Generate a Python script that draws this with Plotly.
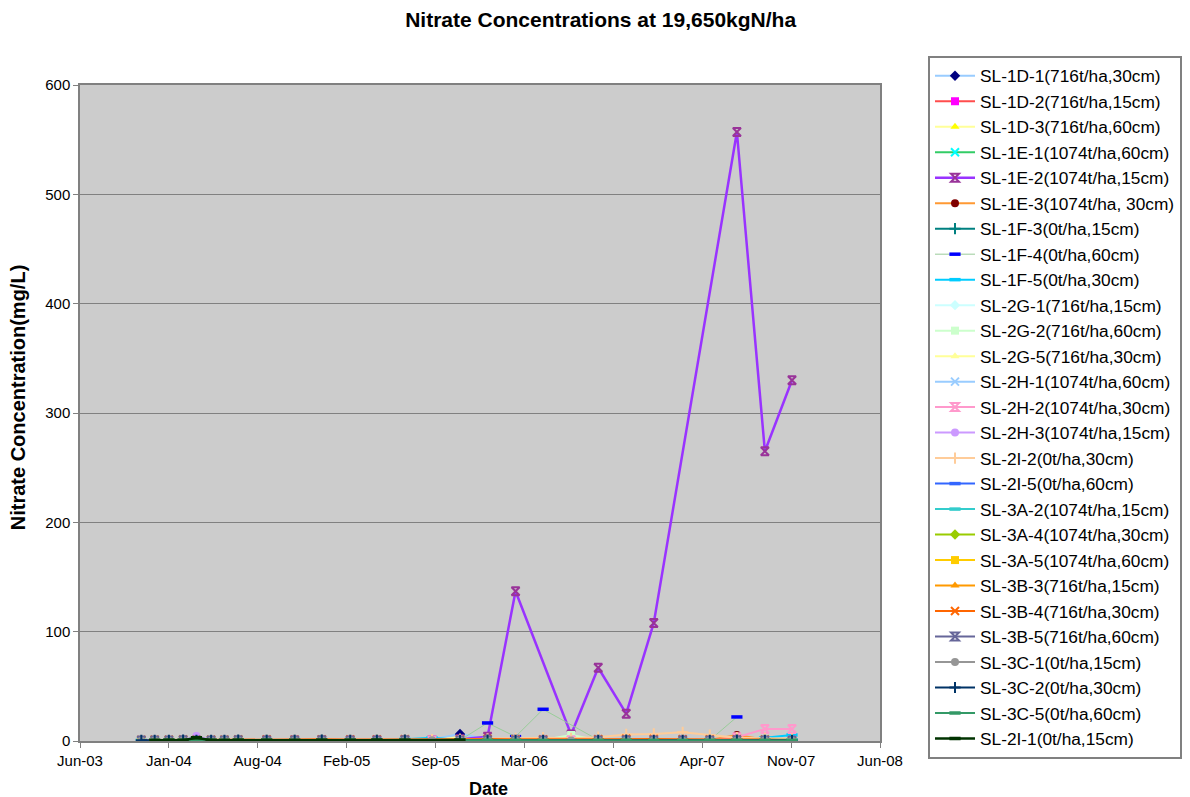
import pandas as pd
import plotly.graph_objects as go

N = None

# Sampling dates
dates = ["2003-11-13", "2003-12-13", "2004-01-14", "2004-02-15", "2004-03-16", "2004-04-18",
         "2004-05-18", "2004-06-18", "2004-08-21", "2004-10-23", "2004-12-23", "2005-02-25",
         "2005-04-26", "2005-06-28", "2005-08-28", "2005-10-30", "2005-12-31", "2006-03-04",
         "2006-05-05", "2006-07-07", "2006-09-06", "2006-11-08", "2007-01-09", "2007-03-15",
         "2007-05-15", "2007-07-15", "2007-09-16", "2007-11-16"]

series_names = [
    "SL-1D-1(716t/ha,30cm)", "SL-1D-2(716t/ha,15cm)", "SL-1D-3(716t/ha,60cm)",
    "SL-1E-1(1074t/ha,60cm)", "SL-1E-2(1074t/ha,15cm)", "SL-1E-3(1074t/ha, 30cm)",
    "SL-1F-3(0t/ha,15cm)", "SL-1F-4(0t/ha,60cm)", "SL-1F-5(0t/ha,30cm)",
    "SL-2G-1(716t/ha,15cm)", "SL-2G-2(716t/ha,60cm)", "SL-2G-5(716t/ha,30cm)",
    "SL-2H-1(1074t/ha,60cm)", "SL-2H-2(1074t/ha,30cm)", "SL-2H-3(1074t/ha,15cm)",
    "SL-2I-2(0t/ha,30cm)", "SL-2I-5(0t/ha,60cm)", "SL-3A-2(1074t/ha,15cm)",
    "SL-3A-4(1074t/ha,30cm)", "SL-3A-5(1074t/ha,60cm)", "SL-3B-3(716t/ha,15cm)",
    "SL-3B-4(716t/ha,30cm)", "SL-3B-5(716t/ha,60cm)", "SL-3C-1(0t/ha,15cm)",
    "SL-3C-2(0t/ha,30cm)", "SL-3C-5(0t/ha,60cm)", "SL-2I-1(0t/ha,15cm)",
]

# Nitrate concentration (mg/L), one list per well
sl_1d_1 = [N, N, N, N, N, N, N, N, 0.5, 0.4, 0.6, 0.5, 0.8, 1.0, 1.2, 6.5, 1.5, 1.0, 0.8, 0.6, 0.5, 0.7, 0.9, 0.6, 0.5, 0.8, 1.0, 1.2]
sl_1d_2 = [N, N, N, N, N, N, N, N, 0.3, 0.2, 0.4, 0.3, 0.5, 0.6, 0.4, 0.8, 0.5, 0.4, 0.3, 0.5, 0.4, 0.6, 0.5, 0.3, 0.4, 0.6, 0.5, 0.4]
sl_1d_3 = [N, N, N, N, N, N, N, N, 0.4, 0.3, 0.5, 0.4, 0.6, 0.8, 0.9, 3.5, 1.0, 1.5, 0.8, 0.6, 0.5, 0.7, 0.8, 0.6, 0.5, 0.7, 0.6, 0.8]
sl_1e_1 = [N, N, N, N, N, N, N, N, 0.3, 0.3, 0.4, 0.5, 0.4, 0.6, 0.7, 0.9, 0.8, 0.6, 0.5, 0.4, 0.6, 0.5, 0.7, 0.5, 0.4, 0.6, 0.8, 0.7]
sl_1e_2 = [N, N, N, N, N, N, N, N, 0.5, 0.4, 0.6, 0.5, 0.7, 0.8, 0.9, 1.5, 4.0, 137, N, 6.0, 67, 25, 108, N, N, 557, 265, 330]
sl_1e_3 = [N, N, N, N, N, N, N, N, 0.4, 0.5, 0.3, 0.6, 0.5, 0.7, 0.6, 0.9, 1.0, 0.8, 0.7, 0.6, 0.8, 0.9, 1.0, 0.8, 0.9, 5.5, 1.2, 1.0]
sl_1f_3 = [N, N, N, N, N, N, N, N, 0.6, 0.5, 0.7, 0.6, 0.8, 0.9, 1.1, 1.0, 0.9, 0.8, 0.7, 0.9, 1.0, 0.8, 0.9, 0.7, 0.8, 1.0, 0.9, 1.1]
sl_1f_4 = [N, N, N, N, N, N, N, N, 0.3, 0.4, 0.3, 0.5, 0.4, 0.6, 0.5, 0.8, 16.5, 4.0, 29.0, N, 1.0, 0.8, 0.6, 0.5, 0.7, 22.0, N, N]
sl_1f_5 = [N, N, N, N, N, N, N, N, 0.5, 0.6, 0.5, 0.7, 0.8, 1.5, 3.0, 1.0, 0.8, 0.9, 0.7, 0.8, 0.9, 1.0, 0.8, 0.9, 1.2, 2.0, 3.0, 5.5]
sl_2g_1 = [N, N, N, N, N, N, N, N, 0.4, 0.5, 0.4, 0.6, 0.5, 0.7, 0.8, 1.0, 0.9, 0.8, 0.7, 0.6, 0.8, 0.7, 0.9, 0.8, 0.7, 0.9, 1.0, 0.8]
sl_2g_2 = [N, N, N, N, N, N, N, N, 0.5, 0.4, 0.5, 0.6, 0.7, 0.6, 0.9, 1.2, 1.5, 1.0, 0.9, 5.5, 1.0, 0.8, 0.9, 0.7, 0.8, 1.0, 0.9, 0.8]
sl_2g_5 = [N, N, N, N, N, N, N, N, 0.3, 0.4, 0.5, 0.4, 0.6, 0.5, 0.7, 0.9, 1.0, 0.8, 1.2, 0.9, 0.8, 1.0, 0.9, 0.8, 0.7, 0.9, 0.8, 1.0]
sl_2h_1 = [N, N, N, N, N, N, N, N, 0.4, 0.3, 0.5, 0.4, 0.5, 0.6, 0.5, 0.7, 0.8, 0.6, 0.7, 0.8, 0.6, 0.7, 0.9, 0.8, 0.6, 0.8, 0.9, 1.0]
sl_2h_2 = [N, N, N, N, N, N, N, N, 0.5, 0.4, 0.6, 0.5, 0.7, 0.6, 0.8, 0.9, 0.8, 1.0, 0.9, 0.8, 1.0, 1.2, 1.0, 0.9, 1.0, 3.5, 11.0, 11.0]
sl_2h_3 = [0.6, 0.5, 0.7, 0.6, 4.5, 0.7, 0.6, 0.8, 0.5, 0.6, 0.5, 0.7, 0.6, 0.8, 0.7, 0.9, 1.0, 0.8, 0.9, 0.7, 0.8, 0.9, 1.0, 0.8, 0.9, 1.0, 0.9, 0.8]
sl_2i_2 = [N, N, N, N, N, N, N, N, 0.6, 0.5, 0.7, 0.8, 0.9, 1.0, 1.2, 1.5, 2.0, 2.5, 3.0, 2.5, 3.5, 6.0, 6.5, 8.0, 5.5, 3.0, 2.5, 2.0]
sl_2i_5 = [N, N, N, N, N, N, N, N, 0.3, 0.4, 0.3, 0.5, 0.4, 0.5, 0.6, 0.5, 0.7, 0.6, 0.5, 0.6, 0.7, 0.6, 0.5, 0.5, 0.6, 0.7, 0.6, 0.8]
sl_3a_2 = [0.6, 0.5, 0.7, 0.6, 0.8, 0.5, 0.6, 0.7, 0.5, 0.6, 0.8, 0.7, 0.6, 0.9, N, 0.8, 0.7, 0.6, 0.8, N, 0.6, 0.9, 0.8, 0.7, 0.6, 1.0, 0.9, 1.1]
sl_3a_4 = [0.4, 0.5, 0.4, 0.6, 0.5, 0.4, 0.5, 0.6, 0.4, 0.5, 0.6, 0.5, 0.4, 0.6, N, 0.5, 0.6, 0.5, 0.4, N, 0.5, 0.6, 0.5, 0.4, 0.5, 0.3, 0.6, 0.5]
sl_3a_5 = [0.8, 0.9, 0.8, 1.0, 0.9, 0.8, 0.9, 1.0, 0.8, 0.9, 1.0, 0.9, 0.8, 1.0, N, 0.9, 1.0, 0.9, 0.8, N, 0.9, 1.0, 0.9, 0.8, 0.9, 1.0, 0.9, 0.8]
sl_3b_3 = [0.7, 0.8, 0.7, 0.9, 0.8, 0.7, 0.8, 0.9, 0.7, 0.8, 0.9, 0.8, 0.7, 0.9, N, 0.8, 0.9, 0.8, 0.7, N, 0.8, 0.9, 0.8, 0.7, 0.8, 0.9, 0.8, 1.2]
sl_3b_4 = [1.0, 1.2, 1.1, 1.3, 1.2, 1.1, 1.2, 1.4, 1.3, 1.2, 1.5, 1.4, 1.3, 1.6, N, 1.5, 1.8, 1.6, 1.5, N, 1.7, 2.0, 1.8, 1.6, 1.5, 1.4, 1.3, 0.5]
sl_3b_5 = [0.5, 0.4, 0.5, 0.6, 0.5, 0.4, 0.5, 0.6, 0.5, 0.4, 0.6, 0.5, 0.4, 0.6, N, 0.5, 0.6, 0.5, 0.4, N, 0.5, 0.6, 0.5, 0.4, 0.5, 0.6, 0.5, 0.4]
sl_3c_1 = [0.3, 0.4, 0.3, 0.5, 0.4, 0.3, 0.4, 0.5, 0.3, 0.4, 0.5, 0.4, 0.3, 0.5, 0.6, 0.4, 0.5, 0.4, 0.3, 0.5, 0.4, 0.5, 0.4, 0.3, 0.4, 0.5, 0.4, 0.3]
sl_3c_2 = [0.6, 0.7, 0.6, 0.8, 0.7, 0.6, 0.7, 0.8, 0.6, 0.7, 0.8, 0.7, 0.6, 0.8, N, 0.7, 0.8, 0.7, 0.6, N, 0.7, 0.8, 0.7, 0.6, 0.7, 0.8, 0.7, 0.6]
sl_3c_5 = [N, 0.5, 0.6, 0.5, 0.7, 0.6, 0.5, 0.6, 0.7, 0.5, 0.6, 0.7, 0.6, 0.5, N, 0.6, 0.7, 0.6, 0.5, N, 0.6, 0.7, 0.6, 0.5, 0.6, 0.7, 0.6, 0.5]
sl_2i_1 = [N, 0.6, 0.8, 0.7, 3.0, 0.7, 0.6, 0.8, 0.7, 0.6, 0.8, 0.7, 0.9, 0.8, N, 0.9, N, N, N, N, N, N, N, N, N, N, N, N]

series_values = [sl_1d_1, sl_1d_2, sl_1d_3, sl_1e_1, sl_1e_2, sl_1e_3, sl_1f_3, sl_1f_4, sl_1f_5,
                 sl_2g_1, sl_2g_2, sl_2g_5, sl_2h_1, sl_2h_2, sl_2h_3, sl_2i_2, sl_2i_5, sl_3a_2,
                 sl_3a_4, sl_3a_5, sl_3b_3, sl_3b_4, sl_3b_5, sl_3c_1, sl_3c_2, sl_3c_5, sl_2i_1]

# Axis ticks (Excel serial days: 37800 .. 39600 step 200)
tick_serials = [37800, 38000, 38200, 38400, 38600, 38800, 39000, 39200, 39400, 39600]
y_ticks = [0, 100, 200, 300, 400, 500, 600]

# Styles: (line colour, marker symbol, marker colour, line width)
styles = [
    ("#99ccff", "diamond", "#000080", 2),
    ("#ff4d4d", "square", "#ff00ff", 2),
    ("#ffff99", "triangle-up", "#ffff00", 2),
    ("#33cc66", "x-thin-open", "#00ffff", 2),
    ("#9933ff", "hourglass-open", "#993399", 2.5),
    ("#ff9933", "circle", "#800000", 2),
    ("#008080", "cross-thin-open", "#008080", 2),
    ("#99cc99", "line-ew-open", "#0000ff", 1),
    ("#00ccff", "line-ew-open", "#00ccff", 2),
    ("#ccffff", "diamond", "#ccffff", 2),
    ("#ccffcc", "square", "#ccffcc", 2),
    ("#ffff99", "triangle-up", "#ffff99", 2),
    ("#99ccff", "x-thin-open", "#99ccff", 2),
    ("#ff99cc", "hourglass-open", "#ff99cc", 2),
    ("#cc99ff", "circle", "#cc99ff", 2),
    ("#ffcc99", "cross-thin-open", "#ffcc99", 2),
    ("#3366ff", "line-ew-open", "#3366ff", 2),
    ("#33cccc", "line-ew-open", "#33cccc", 2),
    ("#99cc00", "diamond", "#99cc00", 2),
    ("#ffcc00", "square", "#ffcc00", 2),
    ("#ff9900", "triangle-up", "#ff9900", 2),
    ("#ff6600", "x-thin-open", "#ff6600", 2),
    ("#666699", "hourglass-open", "#666699", 2),
    ("#969696", "circle", "#969696", 2),
    ("#003366", "cross-thin-open", "#003366", 2),
    ("#339966", "line-ew-open", "#339966", 2),
    ("#003300", "line-ew-open", "#003300", 2.5),
]

x_dates = pd.to_datetime(dates)
base = pd.Timestamp("1899-12-30")
tick_dates = [base + pd.Timedelta(days=s) for s in tick_serials]

FONT = "Liberation Sans, Arial, sans-serif"

fig = go.Figure()
for i, (name, vals) in enumerate(zip(series_names, series_values)):
    lc, sym, mc, lw = styles[i]
    open_sym = sym.endswith("open")
    marker = dict(symbol=sym, size=8, color=mc,
                  line=dict(color=mc, width=2 if open_sym else 0))
    if sym == "line-ew-open":
        marker["size"] = 8
        marker["line"]["width"] = 3.5
    fig.add_trace(go.Scatter(
        x=x_dates, y=vals, name=name, mode="lines+markers",
        connectgaps=True, line=dict(color=lc, width=lw), marker=marker,
    ))

fig.update_layout(
    width=1190, height=797,
    paper_bgcolor="white", plot_bgcolor="#cccccc",
    margin=dict(l=72, r=318, t=77, b=64, autoexpand=False),
    font=dict(family=FONT, color="black"),
    title=dict(text="<b>Nitrate Concentrations at 19,650kgN/ha</b>",
               x=0.498, xref="container", xanchor="center",
               y=0.985, yref="container", yanchor="middle",
               font=dict(size=21, family=FONT, color="black")),
    showlegend=True,
    legend=dict(x=1.06, xanchor="left", y=1.0442, yanchor="top",
                bgcolor="white", bordercolor="#808080", borderwidth=2,
                font=dict(size=17.3, family=FONT, color="black"),
                itemwidth=40,
                traceorder="normal", maxheight=780),
    xaxis=dict(type="date", range=[tick_dates[0], tick_dates[-1]],
               tickvals=tick_dates, tickformat="%b-%y",
               ticks="outside", ticklen=5, tickcolor="#808080",
               showline=True, linecolor="#808080", linewidth=1.5, mirror=True,
               showgrid=False, zeroline=False, automargin=False,
               tickfont=dict(size=15, family=FONT, color="black")),
    yaxis=dict(range=[0, 600], tickvals=y_ticks,
               ticks="outside", ticklen=5, tickcolor="#808080",
               showline=True, linecolor="#808080", linewidth=1.5, mirror=True,
               showgrid=True, gridcolor="#808080", gridwidth=1, zeroline=False,
               automargin=False,
               tickfont=dict(size=15, family=FONT, color="black")),
    annotations=[
        dict(text="<b>Nitrate Concentration(mg/L)</b>", textangle=-90,
             xref="paper", yref="paper", x=-0.0775, y=0.524,
             xanchor="center", yanchor="middle", showarrow=False,
             font=dict(size=20, family=FONT, color="black")),
        dict(text="<b>Date</b>",
             xref="paper", yref="paper", x=0.511, y=-0.0732,
             xanchor="center", yanchor="middle", showarrow=False,
             font=dict(size=18, family=FONT, color="black")),
    ],
)

fig.write_html("out.html")
